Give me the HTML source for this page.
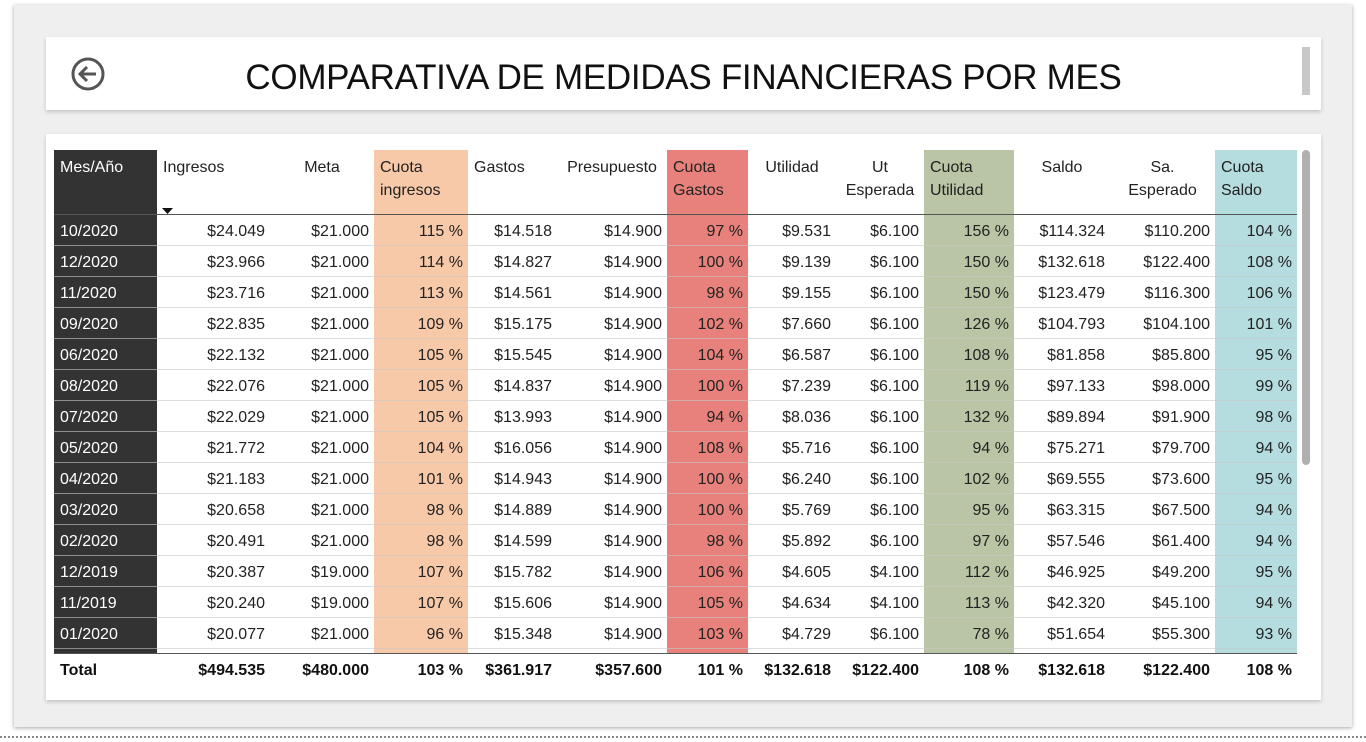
<!DOCTYPE html>
<html><head><meta charset="utf-8"><style>
body{margin:0;width:1366px;height:742px;background:#fff;font-family:"Liberation Sans",sans-serif;position:relative;overflow:hidden}
#panel{position:absolute;left:14px;top:5px;width:1338px;height:722px;background:#efefef;box-shadow:0 1px 4px rgba(0,0,0,.35)}
#dots{position:absolute;left:0;top:736px;width:1366px;border-top:2px dotted #888}
.card{position:absolute;background:#fff;box-shadow:0 2px 4px rgba(0,0,0,.18)}
#title{position:absolute;left:0;width:1275px;top:21px;text-align:center;font-size:35px;color:#111;letter-spacing:-0.3px}
.c{position:absolute;font-size:16px;color:#222;box-sizing:border-box;white-space:nowrap}
.r{text-align:right;padding-right:5px}
</style></head><body>
<div id="panel"></div>
<div id="dots"></div>
<div class="card" style="left:46px;top:37px;width:1275px;height:73px">
<svg style="position:absolute;left:25px;top:20px" width="36" height="36"><circle cx="17" cy="17" r="15" fill="none" stroke="#555" stroke-width="3"/><path d="M25 17H10M16 10l-7 7 7 7" fill="none" stroke="#555" stroke-width="3"/></svg>
<div id="title">COMPARATIVA DE MEDIDAS FINANCIERAS POR MES</div>
<div style="position:absolute;left:1256px;top:10px;width:8px;height:48px;background:#c8c8c8"></div>
</div>
<div class="card" style="left:46px;top:134px;width:1275px;height:566px"></div>
<div id="tbl" style="position:absolute;left:0;top:0"></div>
<div style="position:absolute;left:1302px;top:150px;width:8px;height:315px;background:#b0b0b0;border-radius:4px"></div>
<script>
const headers=["Mes/Año","Ingresos","Meta","Cuota<br>ingresos","Gastos","Presupuesto","Cuota<br>Gastos","Utilidad","Ut<br>Esperada","Cuota<br>Utilidad","Saldo","Sa.<br>Esperado","Cuota<br>Saldo"];
const months=["10/2020","12/2020","11/2020","09/2020","06/2020","08/2020","07/2020","05/2020","04/2020","03/2020","02/2020","12/2019","11/2019","01/2020"];
const ingresos=["$24.049","$23.966","$23.716","$22.835","$22.132","$22.076","$22.029","$21.772","$21.183","$20.658","$20.491","$20.387","$20.240","$20.077"];
const meta=["$21.000","$21.000","$21.000","$21.000","$21.000","$21.000","$21.000","$21.000","$21.000","$21.000","$21.000","$19.000","$19.000","$21.000"];
const cuotaIng=["115 %","114 %","113 %","109 %","105 %","105 %","105 %","104 %","101 %","98 %","98 %","107 %","107 %","96 %"];
const gastos=["$14.518","$14.827","$14.561","$15.175","$15.545","$14.837","$13.993","$16.056","$14.943","$14.889","$14.599","$15.782","$15.606","$15.348"];
const presupuesto=["$14.900","$14.900","$14.900","$14.900","$14.900","$14.900","$14.900","$14.900","$14.900","$14.900","$14.900","$14.900","$14.900","$14.900"];
const cuotaGas=["97 %","100 %","98 %","102 %","104 %","100 %","94 %","108 %","100 %","100 %","98 %","106 %","105 %","103 %"];
const utilidad=["$9.531","$9.139","$9.155","$7.660","$6.587","$7.239","$8.036","$5.716","$6.240","$5.769","$5.892","$4.605","$4.634","$4.729"];
const utEsp=["$6.100","$6.100","$6.100","$6.100","$6.100","$6.100","$6.100","$6.100","$6.100","$6.100","$6.100","$4.100","$4.100","$6.100"];
const cuotaUt=["156 %","150 %","150 %","126 %","108 %","119 %","132 %","94 %","102 %","95 %","97 %","112 %","113 %","78 %"];
const saldo=["$114.324","$132.618","$123.479","$104.793","$81.858","$97.133","$89.894","$75.271","$69.555","$63.315","$57.546","$46.925","$42.320","$51.654"];
const saEsp=["$110.200","$122.400","$116.300","$104.100","$85.800","$98.000","$91.900","$79.700","$73.600","$67.500","$61.400","$49.200","$45.100","$55.300"];
const cuotaSa=["104 %","108 %","106 %","101 %","95 %","99 %","98 %","94 %","95 %","94 %","94 %","95 %","94 %","93 %"];
const totals=["Total","$494.535","$480.000","103 %","$361.917","$357.600","101 %","$132.618","$122.400","108 %","$132.618","$122.400","108 %"];
const cols=[months,ingresos,meta,cuotaIng,gastos,presupuesto,cuotaGas,utilidad,utEsp,cuotaUt,saldo,saEsp,cuotaSa];
const xs=[54,157,270,374,468,557,667,748,836,924,1014,1110,1215,1297];
const bg=[null,null,null,"#f8c9a9",null,null,"#e8817b",null,null,"#b9c5a5",null,null,"#b5dcdf"];
const hAlign=["l","l","c","l","l","c","l","c","c","l","c","c","l"];
const T=document.getElementById('tbl');
function add(x,y,w,h,html,cls,style,name){const d=document.createElement('div');d.className='c '+cls;d.style.cssText=`left:${x}px;top:${y}px;width:${w}px;height:${h}px;`+style;d.innerHTML=html;


T.appendChild(d);return d;}
const top0=150,hdrH=64,rowH=31,bodyTop=215;
for(let i=0;i<13;i++){
  const w=xs[i+1]-xs[i];
  if(i===0) add(xs[i],top0,w,503,'','', 'background:#333;','month-column-bg');
  else if(bg[i]) add(xs[i],top0,w,503,'','','background:'+bg[i]+';','quota-column-bg');
  let st='padding-top:6px;line-height:23px;'+(i===0?'color:#fff;padding-left:6px;':'padding-left:6px;');
  if(hAlign[i]==='c'){st+='text-align:center;padding-left:0;';}
  const hd=add(xs[i],top0,w,hdrH,headers[i],'',st,'column-header');
  
}
add(162,201,12,6,'<svg width="12" height="6"><path d="M0 0h11L5.5 6z" fill="#111"/></svg>','','','sort-arrow');
add(54,214,1243,1,'','','background:#555;','header-divider');
for(let r=0;r<months.length;r++){
  const y=bodyTop+r*rowH;
  for(let i=0;i<13;i++){
    const w=xs[i+1]-xs[i];
    const st=`line-height:${rowH}px;padding-top:1px;`+(i===0?'color:#fff;padding-left:6px;':'');
    add(xs[i],y,w,rowH,cols[i][r],i===0?'':'r',st,i===0?'row-month':'cell-value');
  }
  add(54,y+rowH-1,1243,1,'','','background:rgba(200,200,200,.6);','row-divider');
}
add(54,653,1243,1,'','','background:#555;','total-divider');
for(let i=0;i<13;i++){
  const w=xs[i+1]-xs[i];
  add(xs[i],654,w,31,totals[i],i===0?'':'r','line-height:31px;padding-top:1px;font-weight:bold;color:#111;'+(i===0?'padding-left:6px;':''),i===0?'total-label':'total-value');
}
</script>
</body></html>
